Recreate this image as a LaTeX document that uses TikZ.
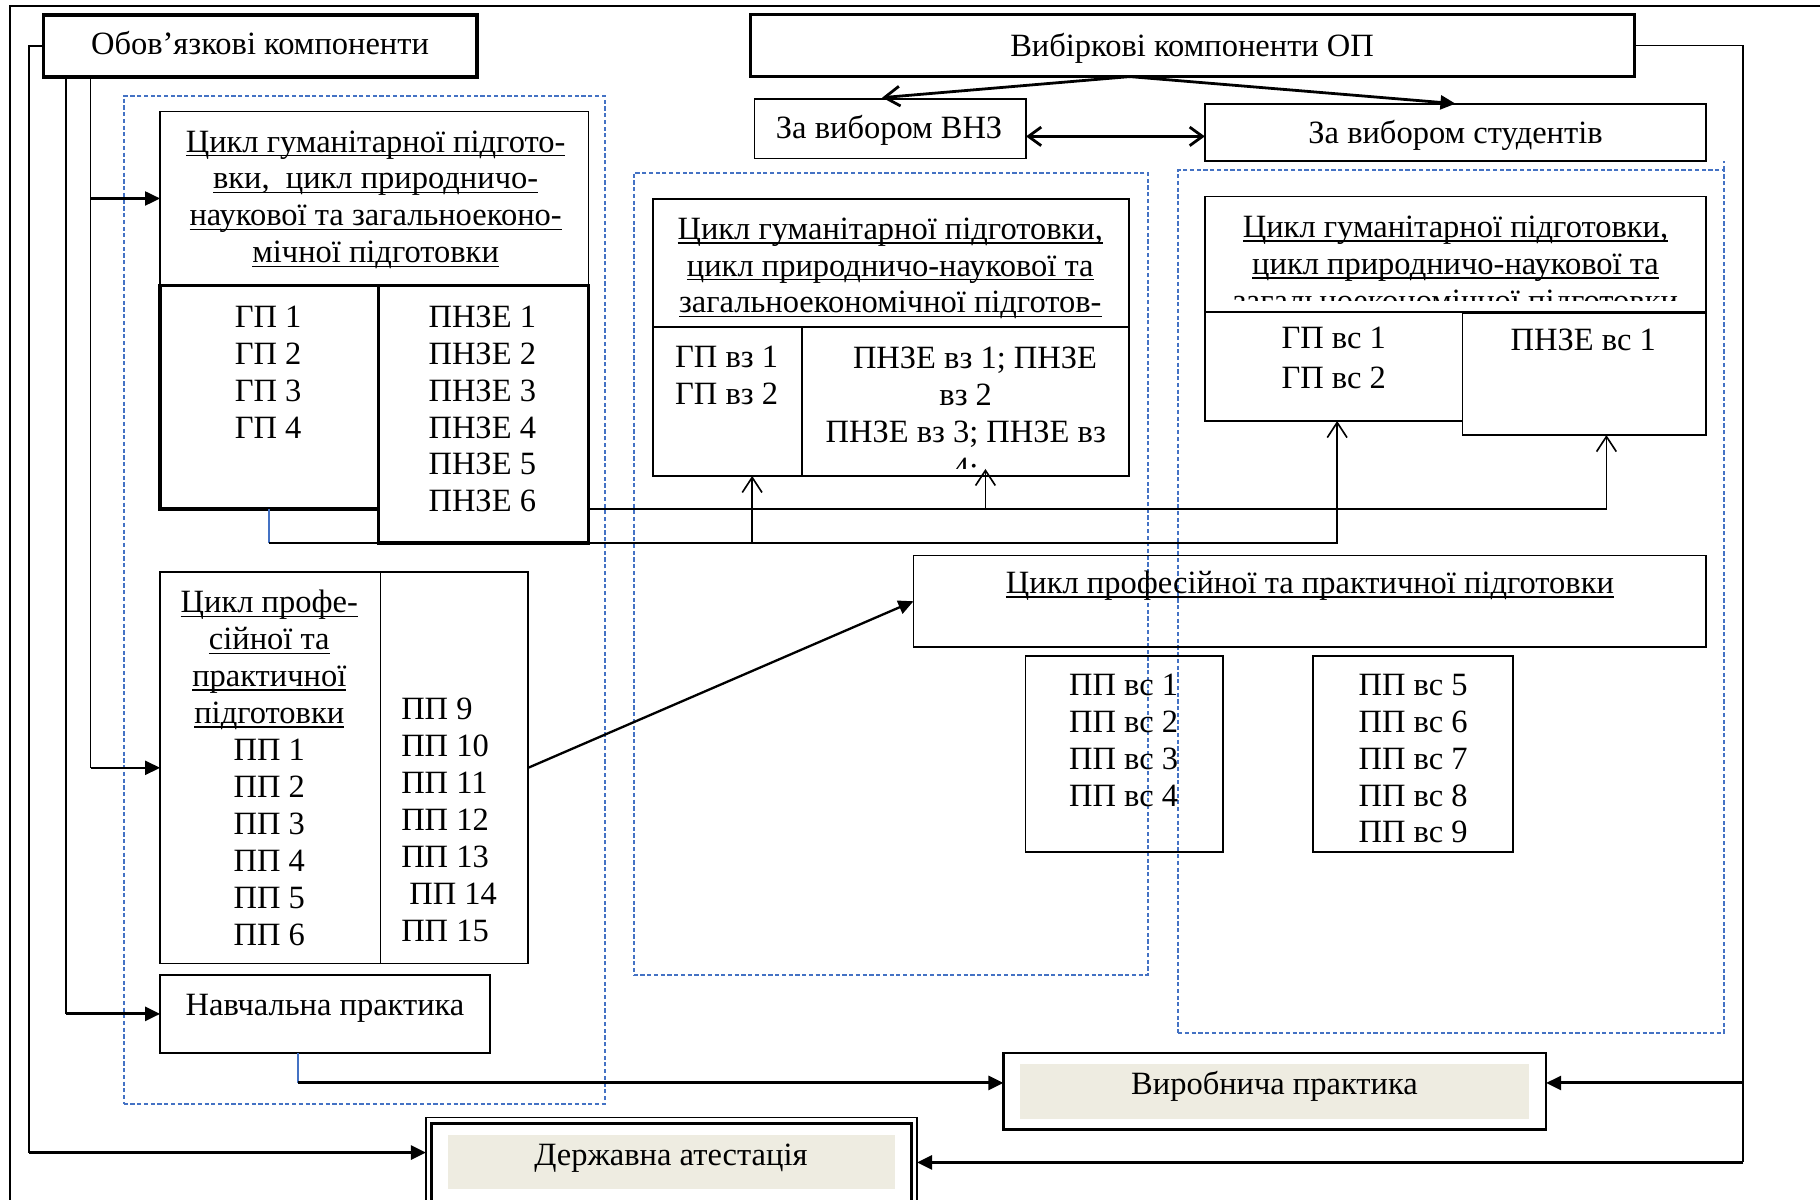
\documentclass[tikz,border=0pt]{standalone}
\usepackage{fontspec}
\setmainfont{Liberation Serif}
\usetikzlibrary{fit,arrows.meta,calc}
\definecolor{dblue}{RGB}{68,114,196}
\definecolor{beigeF}{RGB}{238,236,225}
\newcommand{\myul}[1]{\setbox0=\hbox{#1}\rlap{\rule[-1.9pt]{\wd0}{0.7pt}}\box0}
\newcommand{\colc}[1]{\begin{tabular}[t]{@{}c@{}}#1\end{tabular}}
\newcommand{\coll}[1]{\begin{tabular}[t]{@{}l@{}}#1\end{tabular}}
\begin{document}
\begin{tikzpicture}[x=0.5pt,y=-0.5pt,
  every node/.style={inner sep=0pt, outer sep=0pt, font=\fontsize{14}{15.9}\selectfont},
  box/.style={draw, line width=0.75pt, fit={#1}},
  tbox/.style={draw, line width=1.5pt, fit={#1}},
  fbox/.style={fill=beigeF, fit={#1}},
  dbox/.style={draw=dblue, line width=0.7pt, dash pattern=on 1.8pt off 1.1pt, fit={#1}},
  txt/.style={anchor=base},
  conn/.style={line width=0.7pt},
  tri/.style={-{Triangle[length=6.5pt,width=6pt]}},
  barb/.style={-{Straight Barb[length=6.5pt,width=8.5pt]}},
  barbs/.style={{Straight Barb[length=5.5pt,width=8pt]}-{Straight Barb[length=5.5pt,width=8pt]}}
]
\useasboundingbox (0,0) rectangle (1568,1033);

% outer frame (cropped page border)
\draw[line width=0.8pt] (1568,5.2) -- (8.5,5.2) -- (8.5,1040);

% dashed groups
\node[dbox={(106.6,82.7)(521,951)}] (dL) {};
\node[dbox={(546,148.8)(988.8,840)}] (dM) {};
\node[dbox={(1015,146.5)(1485.5,889.7)}] (dR) {};
\draw[draw=dblue, line width=0.7pt, dash pattern=on 1.8pt off 1.1pt] (dR.north east) -- ($(dR.north east)+(0,-7.5)$);

% top boxes
\node[tbox={(37.5,13)(411,66.5)}] (oblig) {};
\node[tbox={(646.5,12.5)(1408,66)}] (vyb) {};
\node[box={(650,85.6)(884,136.5)}] (vnz) {};
\node[box={(1038,89.3)(1470,139)}] (stud) {};

% left column
\node[box={(138,96)(507,246)}] (gumL) {};
\node[tbox={(138,246)(326,438.5)}] (gp) {};
\node[tbox={(326,246)(507,468)}] (pnze) {};
\node[box={(138,493)(327.7,830)}] (procLa) {};
\node[box={(327.7,493)(455,830)}] (procLb) {};
\node[box={(138,840)(422,907)}] (navch) {};

% middle column
\node[box={(562.5,171.5)(972.5,282)}] (gumM) {};
\node[box={(562.5,282)(691,410)}] (gpvz) {};
\node[box={(691,282)(972.5,410)}] (pnzevz) {};

% right column
\node[box={(1038,169.4)(1470,268.5)}] (gumR) {};
\node[box={(1038,268.5)(1260,362.7)}] (gpvs) {};
\node[box={(1260,269.4)(1470,374.8)}] (pnzevs) {};
\node[box={(787,478.5)(1470,557.5)}] (procR) {};
\node[box={(883.6,565)(1053.5,733.8)}] (ppvs1) {};
\node[box={(1131,565)(1303.3,733.8)}] (ppvs5) {};

% bottom boxes
\node[draw, line width=1pt, fit={(864.5,907)(1332,973)}] (vyr) {};
\node[fbox={(879,917)(1317,964)}] (vyrIn) {};
\node[draw, line width=0.6pt, fit={(367,963)(790,1040)}] (derzh) {};
\node[draw, line width=1.3pt, fit={(372,968)(785,1036)}] (derzhB) {};
\node[fbox={(386,978)(771,1024)}] (derzhIn) {};

% texts
\node[txt] (tOblig) at (224,47) {Обов’язкові компоненти};
\node[txt] (tVyb) at (1027,48.5) {Вибіркові компоненти ОП};
\node[txt] (tVnz) at (766,119) {За вибором ВНЗ};
\node[txt] (tStud) at (1254,123.5) {За вибором студентів};

\node[txt] (tGumL) at (323.6,131) {\colc{\myul{Цикл гуманітарної підгото-}\\\myul{вки,\ \ цикл природничо-}\\\myul{наукової та загальноеконо-}\\\myul{мічної підготовки}}};
\node[txt] (tGp) at (231,282) {\colc{ГП 1\\ГП 2\\ГП 3\\ГП 4}};
\node[txt] (tPnze) at (415.5,282) {\colc{ПНЗЕ 1\\ПНЗЕ 2\\ПНЗЕ 3\\ПНЗЕ 4\\ПНЗЕ 5\\ПНЗЕ 6}};
\node[txt] (tProcLa) at (232,528) {\colc{\myul{Цикл профе-}\\\myul{сійної та}\\\myul{практичної}\\\myul{підготовки}\\ПП 1\\ПП 2\\ПП 3\\ПП 4\\ПП 5\\ПП 6}};
\node[anchor=base west] (tProcLb) at (345.7,620) {\coll{ПП 9\\ПП 10\\ПП 11\\ПП 12\\ПП 13\\\ ПП 14\\ПП 15}};
\node[txt] (tNavch) at (280,874.5) {Навчальна практика};

\node[txt] (tGumM) at (767,206) {\colc{\myul{Цикл гуманітарної підготовки,}\\\myul{цикл природничо-наукової та}\\\myul{загальноекономічної підготов-}}};
\node[txt] (tGpvz) at (626,316.5) {\colc{ГП вз 1\\ГП вз 2}};
\begin{scope}
  \clip (691,282) rectangle (972.5,404);
  \node[txt] (tPnzevz) at (832,317.5) {\colc{\hspace{8pt}ПНЗЕ вз 1; ПНЗЕ\\вз 2\\ПНЗЕ вз 3; ПНЗЕ вз\\4;}};
\end{scope}

\begin{scope}
  \clip (1038,169.4) rectangle (1470,259);
  \node[txt] (tGumR) at (1254,204.5) {\colc{\myul{Цикл гуманітарної підготовки,}\\\myul{цикл природничо-наукової та}\\\myul{загальноекономічної підготовки}}};
\end{scope}
\node[txt, font=\fontsize{14}{17.2}\selectfont] (tGpvs) at (1149,300.5) {\colc{ГП вс 1\\ГП вс 2}};
\node[txt] (tPnzevs) at (1364,302) {ПНЗЕ вс 1};
\node[txt] (tProcR) at (1128.6,511) {\myul{Цикл професійної та практичної підготовки}};
\node[txt] (tPpvs1) at (968,599) {\colc{ПП вс 1\\ПП вс 2\\ПП вс 3\\ПП вс 4}};
\node[txt] (tPpvs5) at (1217.5,599) {\colc{ПП вс 5\\ПП вс 6\\ПП вс 7\\ПП вс 8\\ПП вс 9}};

\node[txt] (tVyr) at (1098,942.6) {Виробнича практика};
\node[txt] (tDerzh) at (578,1004) {Державна атестація};

% ---------- connectors ----------
\coordinate (brk) at (24.8,0);
\coordinate (trA) at (78,0);
\coordinate (trB) at (57,0);
\coordinate (trR) at (1502,0);
\coordinate (c648) at (648,0);
\coordinate (c849) at (849,0);
\coordinate (c1152) at (1152,0);
\coordinate (c1384) at (1384,0);
\coordinate (c257) at (257,0);
\coordinate (h438) at (0,438.5);
\coordinate (h117) at (0,117.5);
\coordinate (vo) at ($(vyb.south)+(-54,0)$);
\coordinate (dA) at ($(derzh.west)+(0,-8.5)$);
\coordinate (vyrA) at ($(vyr.west)+(0,-7)$);
\coordinate (vyrE) at ($(vyr.east)+(0,-7)$);

% left bracket to Державна атестація
\draw[conn, line width=0.8pt] (oblig.west) -| (brk |- dA);
\draw[tri, line width=1.3pt] (brk |- dA) -- (dA);

% trunks from Обов'язкові компоненти
\draw[conn] (oblig.south -| trA) -- (trA |- procLa.west);
\draw[conn] (oblig.south -| trB) -- (trB |- navch.west);
\draw[tri, line width=1pt] (trA |- gumL.west) -- (gumL.west);
\draw[tri, line width=1pt] (trA |- procLa.west) -- (procLa.west);
\draw[tri, line width=1.3pt] (trB |- navch.west) -- (navch.west);

% ГП / ПНЗЕ distribution
\draw[dblue, line width=0.7pt] (gp.south) -- (gp.south |- pnze.south);
\draw[conn, barb] (gp.south |- pnze.south) -| (c1152 |- gpvs.south);
\draw[conn, barb] (c648 |- pnze.south) -- (c648 |- gpvz.south);
\draw[conn, barb] (pnze.east |- h438) -| (c1384 |- pnzevs.south);
\draw[conn, barb] (c849 |- h438) -- ($(c849 |- pnzevz.south)+(0,-6)$);

% professional cycle
\draw[tri, line width=1pt] (procLb.east) -- (procR.west);

% Вибіркові компоненти
\draw[barb, line width=1.2pt] (vo) -- ($(vnz.north)+(-7,-1.5)$);
\draw[tri, line width=1.2pt] (vo) -- (stud.north);
\draw[barbs, line width=1.2pt] (vnz.east |- h117) -- (stud.west |- h117);

% right trunk
\draw[conn, line width=0.8pt] (vyb.east) -| (trR |- derzh.east);
\draw[tri, line width=1.3pt] (trR |- vyrE) -- (vyrE);
\draw[tri, line width=1.3pt] (trR |- derzh.east) -- (derzh.east);

% Навчальна -> Виробнича
\draw[dblue, line width=0.7pt] (c257 |- navch.south) -- (c257 |- vyrA);
\draw[tri, line width=1.3pt] (c257 |- vyrA) -- (vyrA);
\end{tikzpicture}
\end{document}
